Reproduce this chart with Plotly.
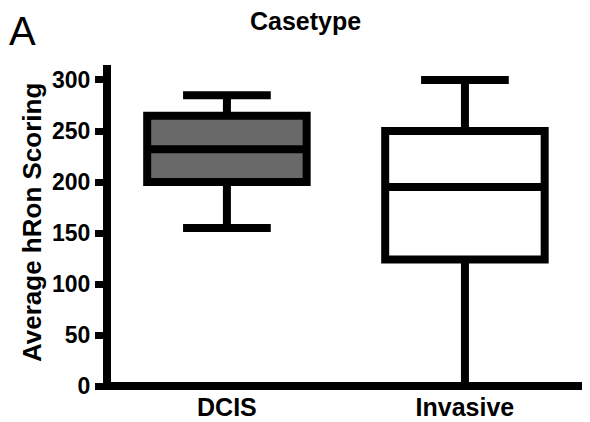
import plotly.graph_objects as go

categories = ["DCIS", "Invasive"]
q1_vals = [200, 124]
median_vals = [232, 195]
q3_vals = [265, 250]
min_vals = [155, 0]
max_vals = [285, 300]
fill_colors = ["#696969", "#ffffff"]
y_ticks = [0, 50, 100, 150, 200, 250, 300]

fig = go.Figure()
for i, cat in enumerate(categories):
    fig.add_trace(go.Box(
        x=[cat],
        q1=[q1_vals[i]], median=[median_vals[i]], q3=[q3_vals[i]],
        lowerfence=[min_vals[i]], upperfence=[max_vals[i]],
        fillcolor=fill_colors[i],
        line=dict(color="black", width=8),
        width=0.67, whiskerwidth=0.55,
        boxpoints=False, showlegend=False, hoverinfo="skip",
    ))

font_fam = "Liberation Sans, Arial, sans-serif"
# the page body adds an 8px offset, so the figure is 8px smaller
W, H = 582, 414
L, R, T, B = 103, 2, 57, 32
pw, ph = W - L - R, H - T - B
OFF = 8


def px(x):
    return (x - OFF - L) / pw


def py(y):
    return (H - B - (y - OFF)) / ph


fig.update_layout(
    width=W, height=H,
    margin=dict(l=L, r=R, t=T, b=B, autoexpand=False),
    paper_bgcolor="white", plot_bgcolor="white",
    showlegend=False,
    xaxis=dict(
        type="category", categoryorder="array", categoryarray=categories,
        range=[-0.487, 1.517], showgrid=False, zeroline=False, automargin=False,
        showline=False, ticks="", ticklabelstandoff=0,
        tickfont=dict(family=font_fam, size=25, color="black", weight="bold"),
    ),
    yaxis=dict(
        range=[-3.92, 314.7], tickvals=y_ticks, ticktext=[str(v) for v in y_ticks],
        showgrid=False, zeroline=True, zerolinecolor="black", zerolinewidth=8,
        automargin=False,
        showline=True, linecolor="black", linewidth=8,
        ticks="outside", ticklen=8, tickwidth=7, tickcolor="black",
        tickfont=dict(family=font_fam, size=23, color="black", weight="bold"),
    ),
    annotations=[
        dict(text="A", x=px(8), y=py(8), xref="paper", yref="paper",
             xanchor="left", yanchor="top", showarrow=False, borderpad=0,
             font=dict(family=font_fam, size=40, color="black")),
        dict(text="<b>Casetype</b>", x=px(305), y=py(21), xref="paper", yref="paper",
             xanchor="center", yanchor="middle", showarrow=False,
             font=dict(family=font_fam, size=25, color="black")),
        dict(text="<b>Average hRon Scoring</b>", x=px(32), y=py(223), xref="paper", yref="paper",
             xanchor="center", yanchor="middle", showarrow=False, textangle=-90,
             font=dict(family=font_fam, size=26, color="black")),
    ],
)
fig.write_html("out.html")
